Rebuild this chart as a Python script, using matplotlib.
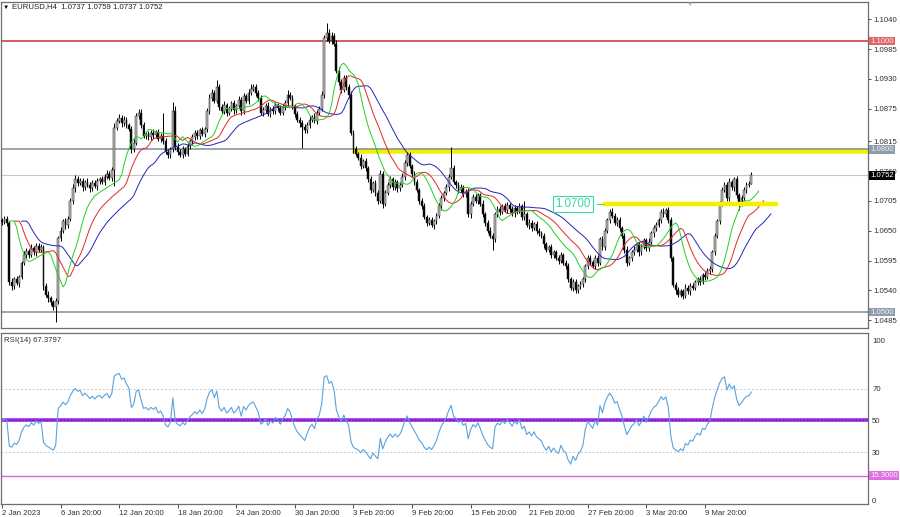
import numpy as np
import pandas as pd
import matplotlib
matplotlib.use("Agg")
import matplotlib.pyplot as plt
from matplotlib.transforms import blended_transform_factory

plt.rcParams["font.family"] = ["Liberation Sans", "DejaVu Sans"]

# ---------------------------------------------------------------------------
# Data: EURUSD H4 candles, prices in pips above 1.0000 (668 -> 1.0668)
# ---------------------------------------------------------------------------

first_open = 670
close_pips = [
    666, 672, 664, 555, 548, 560, 553, 565, 590, 605,
    612, 606, 618, 610, 622, 615, 620, 548, 532, 525,
    518, 510, 520, 636, 650, 668, 660, 672, 705, 728,
    745, 738, 742, 730, 740, 735, 728, 738, 732, 742,
    745, 740, 750, 755, 748, 762, 840, 852, 858, 848,
    855, 845, 838, 800, 812, 862, 868, 845, 825, 828,
    822, 830, 826, 832, 820, 825, 815, 795, 790, 800,
    870, 805, 795, 790, 800, 792, 806, 815, 822, 830,
    825, 835, 828, 838, 870, 895, 905, 890, 915, 878,
    870, 882, 868, 875, 885, 872, 880, 892, 870, 898,
    890, 905, 912, 915, 905, 895, 868, 872, 880, 865,
    875, 870, 882, 876, 868, 878, 885, 900, 895, 880,
    865, 855, 848, 842, 835, 845, 855, 860, 852, 868,
    875, 900, 1005, 1015, 1000, 1010, 995, 945, 925, 910,
    932, 915, 900, 830, 800, 792, 785, 770, 778, 765,
    745, 725, 738, 720, 705, 755, 700, 720, 735, 745,
    730, 740, 728, 735, 750, 775, 790, 770, 755, 740,
    725, 705, 695, 675, 665, 670, 660, 668, 678, 695,
    710, 720, 730, 750, 765, 740, 735, 725, 730, 718,
    722, 680, 700, 712, 705, 715, 700, 680, 665, 650,
    640, 635, 680, 690, 685, 695, 688, 698, 690, 682,
    692, 686, 695, 675, 680, 660, 665, 655, 662, 650,
    645, 640, 625, 615, 620, 605, 610, 600, 595, 605,
    590, 585, 560, 545, 555, 540, 548, 552, 560, 585,
    600, 592, 585, 600, 590, 635, 620, 650, 670, 685,
    678, 665, 670, 655, 640, 615, 590, 600, 610, 615,
    625, 610, 620, 632, 618, 630, 645, 655, 660, 670,
    685, 680, 688, 670, 600, 550, 540, 532, 538, 530,
    545, 538, 548, 545, 555, 560, 555, 568, 565, 575,
    580, 610, 640, 668, 700, 725, 735, 710, 740, 730,
    745, 715, 700, 710, 725, 735, 737, 752,
]
# wick lengths above / below the candle body, in pips
upper_wick = [
    4, 6, 5, 4, 7, 5, 6, 4, 5, 8,
    6, 5, 7, 4, 6, 5, 6, 4, 5, 6,
    4, 5, 6, 5, 7, 4, 6, 5, 6, 8,
    7, 6, 5, 6, 4, 7, 5, 6, 5, 6,
    5, 6, 4, 7, 5, 6, 8, 6, 7, 5,
    6, 5, 4, 6, 7, 5, 7, 6, 5, 4,
    6, 5, 7, 4, 6, 5, 43, 6, 5, 4,
    18, 10, 6, 5, 7, 4, 6, 5, 6, 5,
    6, 5, 7, 4, 6, 8, 6, 5, 13, 6,
    5, 7, 4, 6, 5, 6, 4, 7, 5, 6,
    5, 6, 8, 5, 6, 4, 5, 6, 5, 7,
    4, 6, 5, 4, 6, 5, 7, 10, 6, 5,
    4, 6, 5, 6, 4, 5, 6, 4, 7, 5,
    6, 8, 6, 18, 7, 6, 5, 6, 7, 5,
    6, 5, 6, 8, 5, 6, 4, 7, 5, 6,
    5, 6, 4, 6, 5, 7, 6, 5, 4, 6,
    5, 6, 4, 5, 6, 5, 5, 6, 4, 5,
    6, 4, 5, 6, 4, 5, 6, 4, 5, 6,
    5, 4, 6, 5, 39, 6, 4, 5, 6, 4,
    5, 6, 4, 5, 6, 4, 5, 6, 4, 5,
    6, 5, 4, 6, 5, 4, 6, 5, 4, 6,
    5, 4, 6, 5, 25, 4, 6, 5, 4, 6,
    5, 4, 6, 5, 4, 6, 5, 4, 6, 5,
    4, 6, 5, 4, 6, 5, 4, 6, 5, 4,
    6, 5, 4, 6, 5, 4, 6, 5, 4, 5,
    6, 4, 5, 6, 4, 5, 6, 4, 5, 6,
    4, 5, 6, 4, 5, 6, 4, 5, 6, 4,
    5, 6, 4, 5, 6, 4, 5, 6, 4, 5,
    6, 4, 5, 6, 4, 5, 6, 4, 5, 6,
    4, 5, 6, 4, 5, 6, 4, 5, 8, 4,
    5, 6, 4, 5, 6, 4, 5, 7,
]
lower_wick = [
    5, 4, 6, 5, 7, 5, 4, 6, 5, 4,
    5, 6, 4, 5, 6, 4, 5, 7, 5, 6,
    5, 6, 28, 6, 5, 4, 6, 5, 4, 5,
    6, 5, 4, 6, 5, 4, 6, 5, 4, 6,
    5, 4, 6, 5, 4, 6, 30, 5, 4, 6,
    5, 6, 4, 7, 5, 4, 6, 5, 4, 6,
    5, 4, 6, 5, 4, 6, 5, 4, 6, 5,
    4, 6, 5, 4, 6, 5, 4, 6, 5, 4,
    6, 5, 4, 6, 5, 4, 6, 5, 4, 6,
    5, 4, 6, 5, 4, 6, 5, 4, 6, 5,
    4, 6, 5, 4, 6, 5, 4, 6, 5, 4,
    6, 5, 4, 6, 5, 4, 6, 5, 4, 6,
    5, 4, 6, 39, 5, 4, 6, 5, 4, 6,
    5, 4, 6, 5, 4, 6, 5, 4, 6, 5,
    4, 6, 5, 4, 6, 5, 4, 6, 5, 4,
    6, 5, 4, 6, 5, 4, 8, 5, 4, 6,
    5, 4, 6, 5, 4, 6, 5, 4, 6, 5,
    4, 6, 5, 4, 6, 5, 4, 6, 5, 4,
    6, 5, 4, 6, 5, 4, 6, 5, 4, 6,
    5, 4, 6, 5, 4, 6, 5, 4, 6, 5,
    4, 21, 5, 4, 6, 5, 4, 6, 5, 4,
    6, 5, 4, 6, 5, 4, 6, 5, 4, 6,
    5, 4, 6, 5, 4, 6, 5, 4, 6, 5,
    4, 6, 5, 4, 6, 5, 4, 6, 5, 4,
    6, 5, 4, 6, 5, 4, 6, 5, 4, 6,
    5, 4, 6, 5, 4, 6, 5, 4, 6, 5,
    4, 6, 5, 4, 6, 5, 4, 6, 5, 4,
    6, 5, 4, 6, 5, 4, 6, 5, 4, 6,
    5, 4, 6, 5, 4, 6, 5, 4, 6, 5,
    4, 6, 5, 4, 6, 5, 4, 6, 5, 4,
    6, 5, 12, 4, 6, 5, 4, 0,
]

date_ticks = [0, 24, 48, 72, 96, 120, 144, 168, 192, 216, 240, 264, 288]
date_labels = ["2 Jan 2023", "6 Jan 20:00", "12 Jan 20:00", "18 Jan 20:00",
               "24 Jan 20:00", "30 Jan 20:00", "3 Feb 20:00", "9 Feb 20:00",
               "15 Feb 20:00", "21 Feb 20:00", "27 Feb 20:00", "3 Mar 20:00",
               "9 Mar 20:00"]
price_ticks = [1.1040, 1.0985, 1.0930, 1.0875, 1.0815, 1.0760, 1.0705,
               1.0650, 1.0595, 1.0540, 1.0485]
rsi_ticks = [100, 70, 50, 30, 0]

level_red = 1.1000
level_top = 1.0800
level_mid = 1.0700
level_low = 1.0500
last_price = 1.0752
rsi_level = 15.3

# ---------------------------------------------------------------------------
# Candles + indicators (Alligator on median price, RSI 14)
# ---------------------------------------------------------------------------

close = 1.0 + np.array(close_pips) / 10000.0
opens = np.concatenate([[1.0 + first_open / 10000.0], close[:-1]])
high = np.maximum(opens, close) + np.array(upper_wick) / 10000.0
low = np.minimum(opens, close) - np.array(lower_wick) / 10000.0
idx = np.arange(len(close))

median = pd.Series((high + low) / 2.0)
def smma(s, n):
    return s.ewm(alpha=1.0 / n, adjust=False).mean().values

jaw = smma(median, 13)
teeth = smma(median, 8)
lips = smma(median, 5)

# Wilder RSI, averages seeded equal so it starts at 50
diff = np.diff(close)
ag, al = 0.0010, 0.0010
rsi = [50.0]
for d in diff:
    ag = (ag * 13 + max(d, 0)) / 14
    al = (al * 13 + max(-d, 0)) / 14
    rsi.append(100 - 100 / (1 + ag / al))
rsi = np.array(rsi)

# ---------------------------------------------------------------------------
# Figure
# ---------------------------------------------------------------------------

W, H = 900, 517
fig = plt.figure(figsize=(W / 100, H / 100), dpi=100)
ax = fig.add_axes([1 / W, 1 - 328 / H, 867 / W, 326 / H])
axr = fig.add_axes([1 / W, 1 - 504 / H, 867 / W, 171 / H])

xmin, xmax = -0.41, 354.8
FS = 5.6
frame = "#6e6e6e"

# price panel
ax.set_xlim(xmin, xmax)
ax.set_ylim(1.04705, 1.10720)
ax.vlines(idx, low, high, color="black", lw=0.7, zorder=3)
bull = close >= opens
body_h = np.maximum(np.abs(close - opens), 0.00004)
ax.bar(idx, body_h, bottom=np.minimum(opens, close), width=0.75,
       color=np.where(bull, "#bcbcbc", "black"), edgecolor="#202020",
       linewidth=0.35, zorder=4)

ax.plot(idx + 8, jaw, color="#2424b8", lw=0.7, zorder=5)
ax.plot(idx + 5, teeth, color="#e02828", lw=0.7, zorder=5)
ax.plot(idx + 3, lips, color="#22d022", lw=0.7, zorder=5)

ax.axhline(level_red, color="#d05050", lw=1.3, zorder=2)
ax.plot([143.4, xmax], [level_top - 0.0003] * 2, color="#f5f000", lw=4.0,
        solid_capstyle="butt", zorder=2)
ax.axhline(level_top, color="#8a96a2", lw=1.2, zorder=2)
ax.axhline(last_price, color="#c4c4c4", lw=0.8, zorder=1)
ax.axhline(level_low, color="#8a96a2", lw=1.2, zorder=2)
ax.plot([246.2, 317.9], [level_mid] * 2, color="#f5f000", lw=3.2,
        solid_capstyle="butt", zorder=6)
ax.plot([243.8, 246.2], [level_mid] * 2, color="#3cd8a0", lw=0.8, zorder=6)
ax.text(226.6, level_mid, "1.0700", ha="left", va="center", fontsize=8.3,
        color="#3cd8a0", zorder=7,
        bbox=dict(boxstyle="square,pad=0.18", fc="white", ec="#3cd8a0", lw=0.8))

ax.yaxis.tick_right()
ax.set_yticks(price_ticks)
ax.set_yticklabels([f"{v:.4f}" for v in price_ticks])
ax.set_xticks([])
ax.tick_params(axis="y", labelsize=FS, length=2.5, width=0.6, pad=1.5,
               colors="#303030")

tr = blended_transform_factory(ax.transAxes, ax.transData)
for val, fc, tc in [(level_red, "#e06464", "#ffe8e8"),
                    (level_top, "#8e9cac", "#f0f0f0"),
                    (last_price, "black", "white"),
                    (level_low, "#8e9cac", "#f0f0f0")]:
    ax.text(1.0025, val, f"{val:.4f}", transform=tr, ha="left", va="center",
            fontsize=FS, color=tc, clip_on=False, zorder=10,
            bbox=dict(boxstyle="square,pad=0.12", fc=fc, ec="none"))

# RSI panel
axr.set_xlim(xmin, xmax)
axr.set_ylim(-2.5, 105)
for lv in (70, 30):
    axr.axhline(lv, color="#c8c8c8", lw=0.7, ls=(0, (2, 2)))
axr.axhline(50, color="#a028e8", lw=2.6)
axr.axhline(50, color="#4a2ab0", lw=1.0, ls=(0, (1, 1.5)))
axr.axhline(rsi_level, color="#e060e0", lw=1.0)
axr.plot(idx, rsi, color="#5aa2dc", lw=0.8)
axr.text(3 / 867, 1 - 8 / 171, "RSI(14) 67.3797", transform=axr.transAxes,
         ha="left", va="center", fontsize=FS, color="#303030")
trr = blended_transform_factory(axr.transAxes, axr.transData)
axr.text(1.0025, rsi_level, "15.3000", transform=trr, ha="left", va="center",
         fontsize=FS, color="#fff0ff", clip_on=False,
         bbox=dict(boxstyle="square,pad=0.12", fc="#e070e0", ec="none"))

axr.yaxis.tick_right()
axr.set_yticks(rsi_ticks)
axr.set_yticklabels([str(v) for v in rsi_ticks])
axr.tick_params(axis="y", labelsize=FS, length=0, pad=3, colors="#303030")
axr.set_xticks(date_ticks)
axr.set_xticklabels(date_labels, ha="left")
axr.tick_params(axis="x", labelsize=FS, length=3, width=0.6, pad=1.5,
                colors="#303030")

for a in (ax, axr):
    for sp in a.spines.values():
        sp.set_color(frame)
        sp.set_linewidth(0.9)

fig.text(3 / W, 1 - 7 / H, "\u25BC", fontsize=4.5, va="center", ha="left")
fig.text(12 / W, 1 - 7 / H, "EURUSD,H4  1.0737 1.0759 1.0737 1.0752",
         fontsize=FS, va="center", ha="left", color="#202020")
fig.text(690 / W, 1 - 4 / H, "\u25BC", fontsize=4.5, va="center", ha="center",
         color="#b0b0b0")

fig.savefig("out.png", dpi=100)
